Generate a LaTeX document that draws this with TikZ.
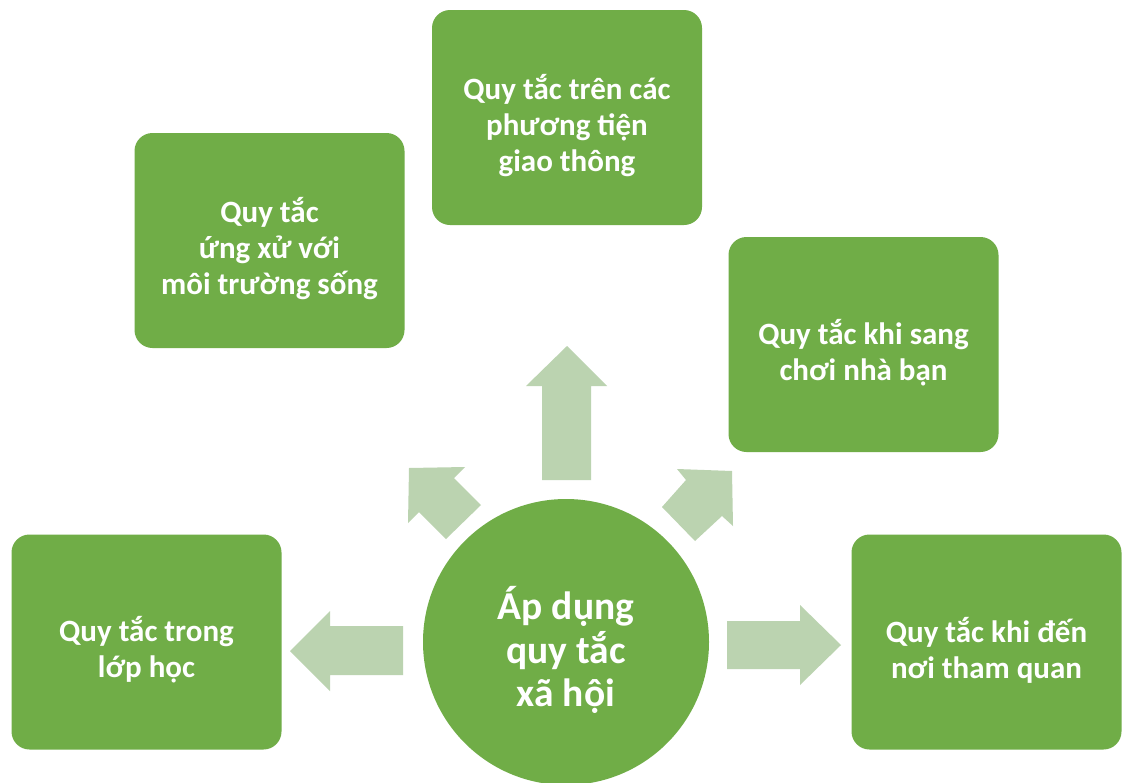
\documentclass[tikz,border=0pt]{standalone}
\usepackage{fontspec}
\setmainfont{Carlito}
\definecolor{boxgreen}{HTML}{70AD47}
\definecolor{arrowgreen}{HTML}{BBD3B0}
\begin{document}
\begin{tikzpicture}[x=1pt,y=-1pt,
  box/.style={fill=boxgreen, draw=none, rounded corners=18pt, minimum width=270pt, minimum height=215pt, inner sep=0pt},
  boxtext/.style={text=white, align=center, font=\fontsize{31}{36}\selectfont\bfseries, inner sep=0pt, yshift=-8pt},
  hub/.style={circle, fill=boxgreen, draw=none, minimum size=286pt, inner sep=0pt},
  hubtext/.style={text=white, align=center, font=\fontsize{39.5}{43.5}\selectfont\bfseries, inner sep=0pt, yshift=-8pt},
  blockarrow/.style={fill=arrowgreen, draw=none}]
\useasboundingbox (0,0) rectangle (1127,782);
\fill[white] (0,0) rectangle (1127,782);
% block arrows
\fill[blockarrow] (567,346) -- (607,386) -- (591,386) -- (591,480) -- (542,480) -- (542,386) -- (526,386) -- cycle;
\fill[blockarrow] (290,651) -- (330,611) -- (330,626) -- (403,626) -- (403,675) -- (330,675) -- (330,691) -- cycle;
\fill[blockarrow] (841,645) -- (800,605) -- (800,621) -- (727,621) -- (727,669) -- (800,669) -- (800,685) -- cycle;
\fill[blockarrow] (409,468) -- (465,467) -- (454,478) -- (481,505) -- (446,539) -- (419,512) -- (408,523) -- cycle;
\fill[blockarrow] (732,471) -- (677,469) -- (686,480) -- (662,507) -- (695,541) -- (722,516) -- (733,526) -- cycle;
% centre
\node[hub] (hub) at (566,642) {};
\node[hubtext] (hubt) at (hub.center) {Áp dụng\\quy tắc\\xã hội};
% boxes
\node[box] (top) at (567,117.5) {};
\node[box] (tl) at (269.5,240.5) {};
\node[box] (rm) at (863.5,344.5) {};
\node[box] (bl) at (146.5,642) {};
\node[box] (br) at (986.5,642) {};
\node[boxtext] (topt) at (top.center) {Quy tắc trên các\\phương tiện\\giao thông};
\node[boxtext] (tlt) at (tl.center) {Quy tắc\\ứng xử với\\môi trường sống};
\node[boxtext] (rmt) at (rm.center) {Quy tắc khi sang\\chơi nhà bạn};
\node[boxtext] (blt) at (bl.center) {Quy tắc trong\\lớp học};
\node[boxtext] (brt) at (br.center) {Quy tắc khi đến\\nơi tham quan};
\end{tikzpicture}
\end{document}
